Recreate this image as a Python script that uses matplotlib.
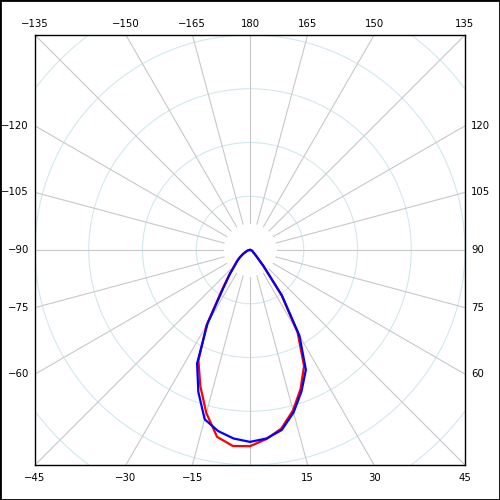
import numpy as np
import matplotlib
matplotlib.use("Agg")
import matplotlib.pyplot as plt
from matplotlib.patches import Circle, Rectangle

# polar light distribution, 0 deg points down, 90 to the right
ANGLES = [-90, -85, -80, -75, -70, -65, -60, -55, -50, -45, -40, -35, -30, -25, -20,
          -15, -10, -5, 0, 5, 10, 15, 20, 25, 30, 35, 40, 45, 50, 55, 60, 65, 70,
          75, 80, 85, 90]
BLUE_VALS = [0, 2, 4, 5, 7, 10, 15, 22, 30, 39, 58, 87, 158, 233, 281,
             326, 342, 352, 357, 352, 340, 313, 280, 246, 184, 104, 39, 18, 11, 7, 6, 5, 4,
             3, 2, 1, 0]
RED_VALS = [0, 2, 4, 5, 7, 10, 15, 22, 31, 41, 60, 91, 162, 227, 270,
            314, 353, 366, 365, 353, 337, 309, 275, 238, 177, 102, 39, 18, 11, 7, 6, 5, 4,
            3, 2, 1, 0]

GRID_R     = [100, 200, 300, 400, 500]
SPOKES     = list(range(-165, 181, 15))
TICK_LBLS  = [a for a in SPOKES if a != 0]
RMAX       = 400
SPOKE_R0   = 50


def to_xy(ang, r):
    t = np.radians(np.asarray(ang, dtype=float))
    r = np.asarray(r, dtype=float)
    return r * np.sin(t), -r * np.cos(t)


fig = plt.figure(figsize=(5, 5), dpi=100)
ax = fig.add_axes([35/500, 35/500, 430/500, 430/500])
ax.set_xlim(-RMAX, RMAX); ax.set_ylim(-RMAX, RMAX)
ax.set_aspect("equal")
ax.set_xticks([]); ax.set_yticks([])
for s in ax.spines.values():
    s.set_linewidth(1.0); s.set_color("black")

for r in GRID_R:
    ax.add_patch(Circle((0, 0), r, fill=False, ec="#d2e8ef", lw=0.8, zorder=1))
for a in SPOKES:
    x, y = to_xy([a, a], [SPOKE_R0, 2 * RMAX])
    ax.plot(x, y, color="#c8c8c8", lw=0.8, zorder=1)

x, y = to_xy(ANGLES, RED_VALS)
ax.plot(x, y, color="#ff0000", lw=1.6, zorder=3)
x, y = to_xy(ANGLES, BLUE_VALS)
ax.plot(x, y, color="#0000ff", lw=1.6, zorder=4)

# angle labels where each spoke meets the frame
for a in TICK_LBLS:
    sx, sy = np.sin(np.radians(a)), -np.cos(np.radians(a))
    txt = str(a).replace("-", "\u2212")
    if abs(sy) >= abs(sx) - 1e-9:
        k = RMAX / abs(sy)
        px, py = sx * k, sy * k
        if sy > 0:
            off, ha, va = (0, 6), "center", "bottom"
        else:
            off, ha, va = (0, -8), "center", "top"
    else:
        k = RMAX / abs(sx)
        px, py = sx * k, sy * k
        if sx > 0:
            off, ha, va = (6, 0), "left", "center"
        else:
            off, ha, va = (-6, 0), "right", "center"
    ax.annotate(txt, (px, py), xytext=off, textcoords="offset pixels",
                ha=ha, va=va, fontsize=7.3, color="black", annotation_clip=False)

fig.patches.append(Rectangle((0, 0), 1, 1, transform=fig.transFigure,
                             fill=False, ec="black", lw=2))

plt.savefig("out.png", dpi=100)
plt.close()
